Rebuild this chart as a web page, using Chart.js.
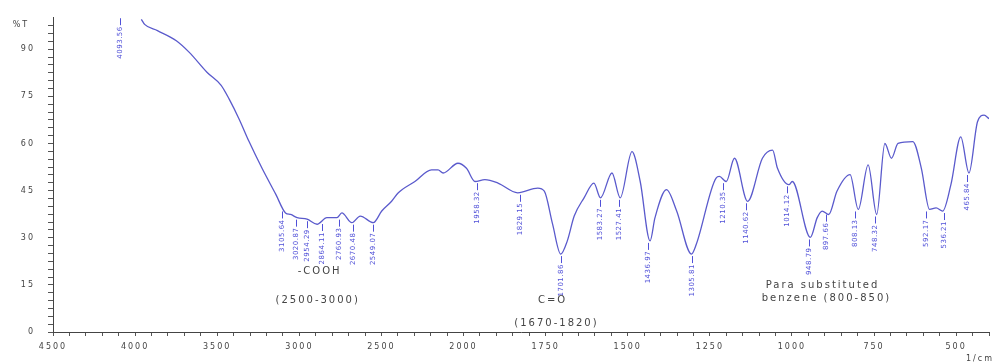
<!DOCTYPE html>
<html>
<head>
<title>FTIR spectrum</title>
<script src="https://cdn.jsdelivr.net/npm/chart.js@4.4.0/dist/chart.umd.min.js"></script>
<style>
body { margin:0; background:#ffffff; }
#box { width:995px; height:363px; }
</style>
</head>
<body>
<div id="box"><canvas id="ftir"></canvas></div>
<script>
// spectrum: wavenumber (1/cm) and %T
var wavenumber = [3962,3942,3864,3749,3670,3561,3476,3427,3367,3306,3227,3143,3084,3053,3013,2953,2892,2832,2771,2741,2680,2629,2549,2498,2438,2397,2296,2195,2155,2124,2034,1991,1965,1935,1895,1835,1774,1754,1729,1704,1684,1663,1633,1603,1583,1548,1523,1487,1462,1432,1417,1382,1351,1306,1291,1231,1221,1200,1175,1135,1090,1059,1044,1009,999,944,923,908,888,863,823,798,768,742,717,697,677,632,606,581,561,541,516,486,461,435,415,400];
var transmittance = [99.5,97.9,95.9,92.7,89.0,82.6,78.5,74.1,67.8,60.6,52.1,43.8,37.9,37.4,36.4,35.9,34.3,36.4,36.4,37.9,34.8,36.9,34.8,38.5,41.6,44.3,47.9,51.6,51.6,50.6,53.7,52.1,47.9,48.5,47.4,44.3,45.8,44.8,34.4,24.8,29.0,36.9,42.7,47.4,42.7,50.6,42.7,57.4,47.9,29.0,36.4,45.3,38.5,24.8,28.0,49.0,49.5,47.9,55.3,41.6,55.3,57.9,52.1,46.9,47.9,30.1,36.4,38.5,37.4,44.8,50.1,39.0,53.2,37.4,60.0,55.3,60.0,60.6,52.1,39.0,39.5,38.5,46.9,62.1,50.6,66.9,69.0,67.9];

// picked peaks
var peakWn = [4093.56,3105.64,3020.87,2954.29,2864.11,2760.93,2670.48,2549.07,1958.32,1829.15,1701.86,1583.27,1527.41,1436.97,1305.81,1210.35,1140.62,1014.12,948.79,897.66,808.13,748.32,592.17,536.21,465.84];
var peakT = [100.5,39.0,36.4,35.9,35.0,36.4,34.8,34.8,48.0,44.3,24.8,42.7,42.7,29.0,24.8,48.0,41.6,47.0,30.1,38.0,39.0,37.4,39.0,38.5,50.6];

var xTickLabels = [4500,4000,3500,3000,2500,2000,1750,1500,1250,1000,750,500];
var yTickLabels = [0,15,30,45,60,75,90];

var notes = ["-COOH","(2500-3000)","C=O","(1670-1820)","Para substituted","benzene (800-850)"];
var noteWn = [2876,2888,1729,1717,907,895];
var noteT = [19.2,10.1,10.1,2.8,14.8,10.7];

// axis is compressed 2x above 2000 1/cm, like the instrument printout
function toAxis(wn) { return wn >= 2000 ? (4500 - wn) / 2 : 1250 + (2000 - wn); }
function fromAxis(u) { return u <= 1250 ? 4500 - 2 * u : 2000 - (u - 1250); }

var points = [];
for (var i = 0; i < wavenumber.length; i++) {
  points.push({ x: toAxis(wavenumber[i]), y: transmittance[i] });
}

var extras = {
  id: 'extras',
  beforeDraw: function(chart) {
    chart.ctx.letterSpacing = '2px';
  },
  afterDatasetsDraw: function(chart) {
    var ctx = chart.ctx, xs = chart.scales.x, ys = chart.scales.y;
    ctx.save();
    ctx.strokeStyle = '#5050d8';
    ctx.fillStyle = '#5050d8';
    ctx.lineWidth = 1;
    ctx.font = '7px "DejaVu Sans"';
    ctx.letterSpacing = '0.5px';
    for (var i = 0; i < peakWn.length; i++) {
      var px = Math.round(xs.getPixelForValue(toAxis(peakWn[i]))) + 0.5;
      var py = ys.getPixelForValue(peakT[i]);
      ctx.beginPath();
      ctx.moveTo(px, py + 2);
      ctx.lineTo(px, py + 9);
      ctx.stroke();
      ctx.save();
      ctx.translate(px, py + 10);
      ctx.rotate(-Math.PI / 2);
      ctx.textAlign = 'right';
      ctx.textBaseline = 'middle';
      ctx.fillText(peakWn[i].toFixed(2), 0, 0);
      ctx.restore();
    }
    ctx.fillStyle = '#444444';
    ctx.font = '10px "DejaVu Sans"';
    ctx.letterSpacing = '2px';
    ctx.textAlign = 'center';
    ctx.textBaseline = 'middle';
    for (var j = 0; j < notes.length; j++) {
      ctx.fillText(notes[j], xs.getPixelForValue(toAxis(noteWn[j])), ys.getPixelForValue(noteT[j]));
    }
    ctx.font = '8px "DejaVu Sans"';
    ctx.fillText('%T', 21, ys.getPixelForValue(97.8));
    ctx.fillText('1/cm', 980, 359);
    ctx.restore();
  }
};

new Chart(document.getElementById('ftir'), {
  type: 'line',
  data: {
    datasets: [{
      data: points,
      borderColor: '#5a5acc',
      borderWidth: 1.3,
      pointRadius: 0,
      cubicInterpolationMode: 'monotone',
      fill: false
    }]
  },
  options: {
    responsive: true,
    maintainAspectRatio: false,
    animation: false,
    layout: { padding: { top: 15, right: 0, left: 0, bottom: 0 } },
    plugins: { legend: { display: false }, tooltip: { enabled: false } },
    scales: {
      x: {
        type: 'linear',
        min: 0,
        max: 2850,
        afterFit: function(scale) { scale.height = 31; },
        afterBuildTicks: function(scale) {
          var t = [];
          for (var u = 0; u <= 2850; u += 50) t.push({ value: u });
          scale.ticks = t;
        },
        grid: { drawOnChartArea: false, tickLength: 4, color: '#555555' },
        border: { color: '#444444', width: 1 },
        ticks: {
          autoSkip: false,
          maxRotation: 0,
          padding: 6,
          color: '#444444',
          font: { family: 'DejaVu Sans', size: 8 },
          callback: function(value) {
            var wn = Math.round(fromAxis(value));
            return xTickLabels.indexOf(wn) >= 0 && value % 250 === 0 ? String(wn) : '';
          }
        }
      },
      y: {
        min: 0,
        max: 100,
        afterFit: function(scale) { scale.width = 53; },
        afterBuildTicks: function(scale) {
          var t = [];
          for (var v = 0; v <= 97.5; v += 2.5) t.push({ value: v });
          scale.ticks = t;
        },
        grid: { drawOnChartArea: false, tickLength: 5, color: '#555555' },
        border: { color: '#444444', width: 1 },
        ticks: {
          autoSkip: false,
          padding: 13,
          color: '#444444',
          font: { family: 'DejaVu Sans', size: 8 },
          callback: function(value) {
            return yTickLabels.indexOf(value) >= 0 ? String(value) : '';
          }
        }
      }
    }
  },
  plugins: [extras]
});
</script>
</body>
</html>
